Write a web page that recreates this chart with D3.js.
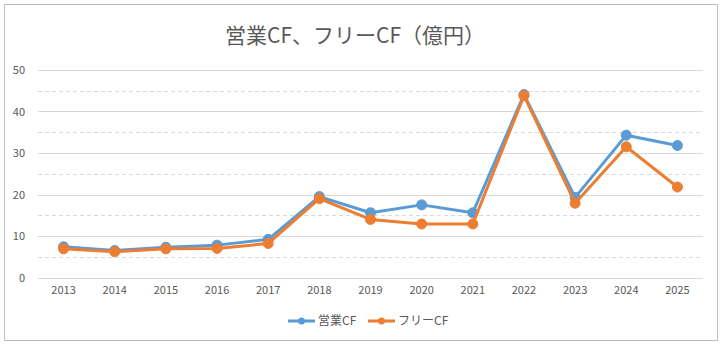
<!DOCTYPE html>
<html><head><meta charset="utf-8">
<script src="https://cdn.jsdelivr.net/npm/d3@7"></script>
<style>html,body{margin:0;padding:0;background:#fff;}svg{display:block;}</style>
</head><body>
<script>
const years = ["2013","2014","2015","2016","2017","2018","2019","2020","2021","2022","2023","2024","2025"];
const operatingCF = [7.4,6.5,7.3,7.8,9.2,19.5,15.6,17.5,15.6,44.1,19.3,34.3,31.8];
const freeCF = [6.9,6.2,6.9,7.0,8.2,19.0,14.0,12.9,12.9,43.8,17.9,31.5,21.8];
const seriesNames = ["営業CF","フリーCF"];
const seriesColors = ["#5B9BD5","#ED7D31"];
const yTicks = [0,10,20,30,40,50];
const yMinor = [5,15,25,35,45];
const titleText = "営業CF、フリーCF（億円）";

const W = 726, H = 349;
const font = "'Noto Sans CJK JP', 'Noto Sans', sans-serif";
const svg = d3.select("body").append("svg").attr("width", W).attr("height", H);

svg.append("rect").attr("x",4.5).attr("y",4.5).attr("width",713).attr("height",336)
  .attr("fill","#fff").attr("stroke","#bfbfbf").attr("stroke-width",1);

const plot = {left:38, right:703, top:70, bottom:277.5};
const x = d3.scaleBand().domain(years).range([plot.left, plot.right]);
const y = d3.scaleLinear().domain([0,50]).range([plot.bottom, plot.top]);

const g = svg.append("g");
// minor dashed gridlines
g.selectAll(".minor").data(yMinor).join("line")
  .attr("x1",plot.left).attr("x2",plot.right)
  .attr("y1",d=>Math.round(y(d))+0.5).attr("y2",d=>Math.round(y(d))+0.5)
  .attr("stroke","#d9d9d9").attr("stroke-dasharray","4,3").attr("stroke-width",1);
// major gridlines
g.selectAll(".major").data(yTicks).join("line")
  .attr("x1",plot.left).attr("x2",plot.right)
  .attr("y1",d=>Math.round(y(d))+0.5).attr("y2",d=>Math.round(y(d))+0.5)
  .attr("stroke","#d9d9d9").attr("stroke-width",1);

// y axis labels
const yAxis = d3.axisLeft(y).tickValues(yTicks).tickSize(0).tickPadding(0);
const ya = svg.append("g").attr("transform",`translate(${plot.left-13},0)`).call(yAxis);
ya.select(".domain").remove();
ya.selectAll("text").attr("font-family",font).attr("font-size",11).attr("fill","#595959");

// x axis labels
const xAxis = d3.axisBottom(x).tickSize(0).tickPadding(0);
const xa = svg.append("g").attr("transform",`translate(0,${plot.bottom+9})`).call(xAxis);
xa.select(".domain").remove();
xa.selectAll("text").attr("font-family",font).attr("font-size",11).attr("fill","#595959");

const cx = d => x(d) + x.bandwidth()/2;
const line = d3.line().x(d=>cx(d.year)).y(d=>y(d.v));
[operatingCF, freeCF].forEach((arr,i)=>{
  const data = years.map((yr,j)=>({year:yr, v:arr[j]}));
  svg.append("path").datum(data).attr("d",line).attr("fill","none")
    .attr("stroke",seriesColors[i]).attr("stroke-width",3).attr("stroke-linejoin","round");
  svg.append("g").selectAll("circle").data(data).join("circle")
    .attr("cx",d=>cx(d.year)).attr("cy",d=>y(d.v)).attr("r",5)
    .attr("fill",seriesColors[i]).attr("stroke",seriesColors[i]).attr("stroke-width",1);
});

// title
svg.append("text").attr("x",355).attr("y",43).attr("text-anchor","middle")
  .attr("font-family",font).attr("font-size",21).attr("fill","#595959").text(titleText);

// legend
const legX = [288, 368];
seriesNames.forEach((n,i)=>{
  const lg = svg.append("g");
  lg.append("line").attr("x1",legX[i]).attr("x2",legX[i]+27).attr("y1",321).attr("y2",321)
    .attr("stroke",seriesColors[i]).attr("stroke-width",3);
  lg.append("circle").attr("cx",legX[i]+13.5).attr("cy",321).attr("r",3.5).attr("fill",seriesColors[i]);
  lg.append("text").attr("x",legX[i]+30).attr("y",325).attr("font-family",font)
    .attr("font-size",12).attr("fill","#595959").text(n);
});
</script>
</body></html>
